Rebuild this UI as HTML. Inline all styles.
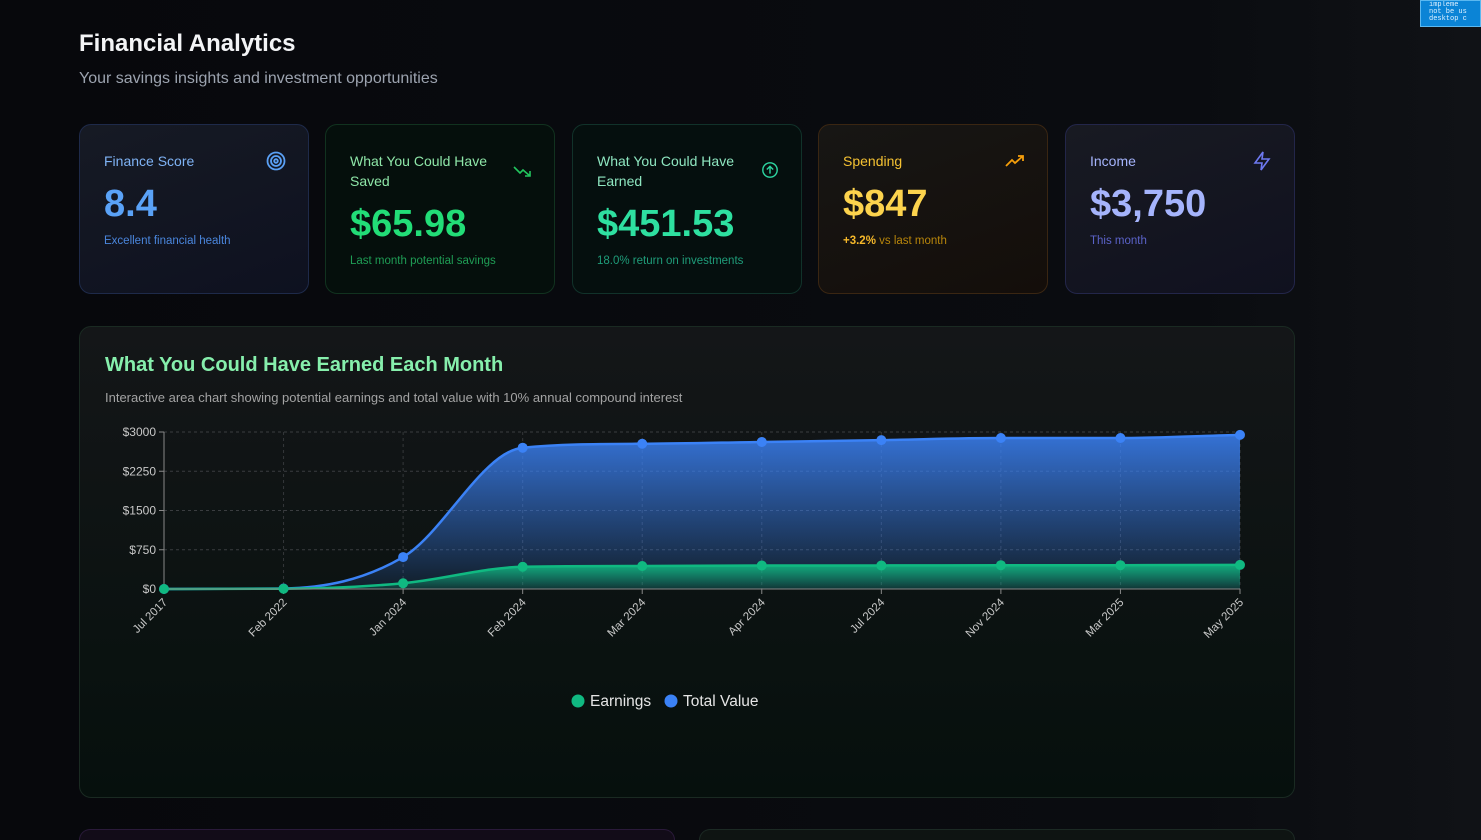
<!DOCTYPE html>
<html style="width:1481px;height:840px;overflow:hidden"><head><meta charset="utf-8"><style>
*{box-sizing:border-box;margin:0;padding:0}
body{width:1481px;height:840px;overflow:hidden;background:linear-gradient(90deg,#07080c 0%,#0a0c10 80%,#101216 100%);font-family:"Liberation Sans",sans-serif;position:relative;color:#fff}
.abs{position:absolute}
h1{position:absolute;left:79px;top:30px;font-size:24px;font-weight:700;color:#f3f4f6}
.sub{left:79px;top:70px;font-size:16px;color:#9ca3af}
.card{position:absolute;top:124px;width:230px;height:170px;border-radius:12px;border:1px solid}
.card .t{position:absolute;left:24px;top:26px;font-size:14px;line-height:20px}
.card .v{position:absolute;left:24px;font-size:38px;font-weight:700}
.card .n{position:absolute;left:24px;font-size:11.5px}
.card svg{position:absolute;right:22px;top:26px}
</style></head><body>
<div class="abs" style="left:1420px;top:0;width:61px;height:27px;background:#0b84d6;border:1px solid #5bb8f0;font:7px 'Liberation Mono',monospace;color:#e0f2ff;line-height:7px;padding:1px 0 0 8px;overflow:hidden">impleme<br>not be us<br>desktop c</div>
<h1>Financial Analytics</h1>
<div class="abs sub">Your savings insights and investment opportunities</div>

<div class="card" style="left:79px;background:linear-gradient(160deg,#161a24,#0e1120);border-color:#1e2a4a">
<div class="t" style="color:#7fb3f5">Finance Score</div>
<svg width="20" height="20" viewBox="0 0 20 20" fill="none" stroke="#5aa0f5" stroke-width="1.8"><circle cx="10" cy="10" r="8.5"/><circle cx="10" cy="10" r="5"/><circle cx="10" cy="10" r="1.8"/></svg>
<div class="v" style="top:58px;color:#5aa2f7">8.4</div>
<div class="n" style="top:110px;color:#4a86dd">Excellent financial health</div></div>

<div class="card" style="left:325px;background:#050f0c;border-color:#11321f">
<div class="t" style="color:#8ee6a8">What You Could Have<br>Saved</div>
<svg width="20" height="20" viewBox="0 0 20 20" fill="none" stroke="#22c55e" stroke-width="1.6" style="top:36px"><path d="M2 6l6 6 3-3 7 6M13 15h5v-5"/></svg>
<div class="v" style="top:78px;color:#22dd77">$65.98</div>
<div class="n" style="top:130px;color:#1f9d55">Last month potential savings</div></div>

<div class="card" style="left:572px;background:#050f0e;border-color:#11322a">
<div class="t" style="color:#8ee6c0">What You Could Have<br>Earned</div>
<svg width="18" height="18" viewBox="0 0 20 20" fill="none" stroke="#2dd4a0" stroke-width="1.6" style="top:36px"><circle cx="10" cy="10" r="8"/><path d="M10 14V6M6.5 9.5L10 6l3.5 3.5"/></svg>
<div class="v" style="top:78px;color:#2ee0a0">$451.53</div>
<div class="n" style="top:130px;color:#1f9d7a">18.0% return on investments</div></div>

<div class="card" style="left:818px;background:linear-gradient(160deg,#171614,#140e0a);border-color:#3a2612">
<div class="t" style="color:#f5c232">Spending</div>
<svg width="20" height="20" viewBox="0 0 20 20" fill="none" stroke="#f59e0b" stroke-width="1.8"><path d="M1 15l6-6 3 3 8-7M13 5h5v5"/></svg>
<div class="v" style="top:58px;color:#fcd34d">$847</div>
<div class="n" style="top:110px;color:#b8860b"><b style="color:#f5b82a">+3.2%</b> vs last month</div></div>

<div class="card" style="left:1065px;background:linear-gradient(160deg,#181a22,#10111f);border-color:#23264a">
<div class="t" style="color:#a5b4fc">Income</div>
<svg width="20" height="20" viewBox="0 0 20 20" fill="none" stroke="#6d78f0" stroke-width="1.6"><path d="M11 1L3 12h7l-1 7 8-11h-7z"/></svg>
<div class="v" style="top:58px;color:#a5b4fc">$3,750</div>
<div class="n" style="top:110px;color:#5b63c9">This month</div></div>

<div class="abs" style="left:79px;top:326px;width:1216px;height:472px;border-radius:12px;border:1px solid #1a2a22;background:linear-gradient(180deg,#141618,#06100d)">
<div class="abs" style="left:25px;top:27px;font-size:20px;font-weight:700;color:#86efac">What You Could Have Earned Each Month</div>
<div class="abs" style="left:25px;top:63px;font-size:13px;color:#a3a3a3">Interactive area chart showing potential earnings and total value with 10% annual compound interest</div>
</div>
<svg id="chart" class="abs" style="left:0;top:0" width="1481" height="840"></svg>

<div class="abs" style="left:79px;top:829px;width:596px;height:11px;border-radius:12px 12px 0 0;border:1px solid #2a1a3a;border-bottom:none;background:#120c18"></div>
<div class="abs" style="left:699px;top:829px;width:596px;height:11px;border-radius:12px 12px 0 0;border:1px solid #1c2a24;border-bottom:none;background:#0e1412"></div>

<script>
const categories=["Jul 2017","Feb 2022","Jan 2024","Feb 2024","Mar 2024","Apr 2024","Jul 2024","Nov 2024","Mar 2025","May 2025"];
const earnings=[0,5,110,425,440,450,450,455,455,460];
const totalValue=[0,10,610,2700,2775,2810,2845,2885,2885,2945];
const yTicks=[0,750,1500,2250,3000];
const yTickLabels=["$0","$750","$1500","$2250","$3000"];
const X0=164,X1=1240,Y0=589,Y1=432,YMAX=3000;
const xs=i=>X0+(X1-X0)*i/(categories.length-1);
const ys=v=>Y0-(Y0-Y1)*v/YMAX;
const NS="http://www.w3.org/2000/svg";
const svg=document.getElementById('chart');
function mk(tag,a,parent){const e=document.createElementNS(NS,tag);for(const k in a)e.setAttribute(k,a[k]);(parent||svg).appendChild(e);return e;}
const defs=mk('defs',{});
defs.innerHTML='<linearGradient id="gb" x1="0" y1="0" x2="0" y2="1"><stop offset="0" stop-color="#3b82f6" stop-opacity=".85"/><stop offset="1" stop-color="#3b82f6" stop-opacity=".1"/></linearGradient><linearGradient id="gg" x1="0" y1="0" x2="0" y2="1"><stop offset="0" stop-color="#10b981" stop-opacity=".9"/><stop offset="1" stop-color="#10b981" stop-opacity=".15"/></linearGradient>';
yTicks.forEach((t,i)=>{
 const g=mk('line',{x1:X0,x2:X1,y1:ys(t),y2:ys(t),stroke:'#3a3d40','stroke-dasharray':'3 3'});
 
 
 mk('line',{x1:X0-5,x2:X0,y1:ys(t),y2:ys(t),stroke:'#888'});
 const tx=mk('text',{x:X0-8,y:ys(t)+4,'text-anchor':'end','font-size':12,fill:'#c8c8c8','font-family':'Liberation Sans'});
 tx.textContent=yTickLabels[i];
 
 
});
categories.forEach((c,i)=>{
 const g=mk('line',{x1:xs(i),x2:xs(i),y1:Y1,y2:Y0,stroke:'#34373a','stroke-dasharray':'3 3'});
 
 
 mk('line',{x1:xs(i),x2:xs(i),y1:Y0,y2:Y0+5,stroke:'#888'});
 const tx=mk('text',{x:xs(i)+4,y:Y0+14,'text-anchor':'end','font-size':11.5,fill:'#c8c8c8','font-family':'Liberation Sans',transform:`rotate(-45 ${xs(i)+4} ${Y0+14})`});
 tx.textContent=c;
 
 
});
function mono(vals){
 const p=vals.map((v,i)=>[xs(i),ys(v)]);const n=p.length;
 const d=[],m=[];for(let i=0;i<n-1;i++)d.push((p[i+1][1]-p[i][1])/(p[i+1][0]-p[i][0]));
 for(let i=0;i<n;i++){if(i==0)m.push(d[0]);else if(i==n-1)m.push(d[n-2]);else m.push(d[i-1]*d[i]<=0?0:(d[i-1]+d[i])/2);}
 for(let i=0;i<n-1;i++){if(d[i]==0){m[i]=0;m[i+1]=0;continue;}const a=m[i]/d[i],b=m[i+1]/d[i],s=a*a+b*b;if(s>9){const t=3/Math.sqrt(s);m[i]=t*a*d[i];m[i+1]=t*b*d[i];}}
 let s=`M${p[0][0]},${p[0][1]}`;
 for(let i=0;i<n-1;i++){const h=(p[i+1][0]-p[i][0])/3;s+=`C${p[i][0]+h},${p[i][1]+m[i]*h} ${p[i+1][0]-h},${p[i+1][1]-m[i+1]*h} ${p[i+1][0]},${p[i+1][1]}`;}
 return s;
}
function series(vals,col,grad,name){
 const line=mono(vals);
 const a=mk('path',{d:line+`L${X1},${Y0}L${X0},${Y0}Z`,fill:`url(#${grad})`});
 
 
 const l=mk('path',{d:line,fill:'none',stroke:col,'stroke-width':2.5});
 
 
 return ()=>vals.forEach((v,i)=>{const c=mk('circle',{cx:xs(i),cy:ys(v),r:5,fill:col});
  
  });
}
const d1=series(totalValue,'#3b82f6','gb','total-value');
const d2=series(earnings,'#10b981','gg','earnings');
mk('line',{x1:X0,x2:X0,y1:Y1,y2:Y0,stroke:'#888'});
mk('line',{x1:X0,x2:X1,y1:Y0,y2:Y0,stroke:'#888'});
d1();d2();
[[578,'#10b981','Earnings'],[671,'#3b82f6','Total Value']].forEach(([x,c,t])=>{
 const g=mk('g',{});
 
 
 mk('circle',{cx:x,cy:701,r:6.5,fill:c},g);
 const tx=mk('text',{x:x+12,y:706,'font-size':15.5,fill:'#e5e5e5','font-family':'Liberation Sans'},g);tx.textContent=t;
});
</script>
</body></html>
